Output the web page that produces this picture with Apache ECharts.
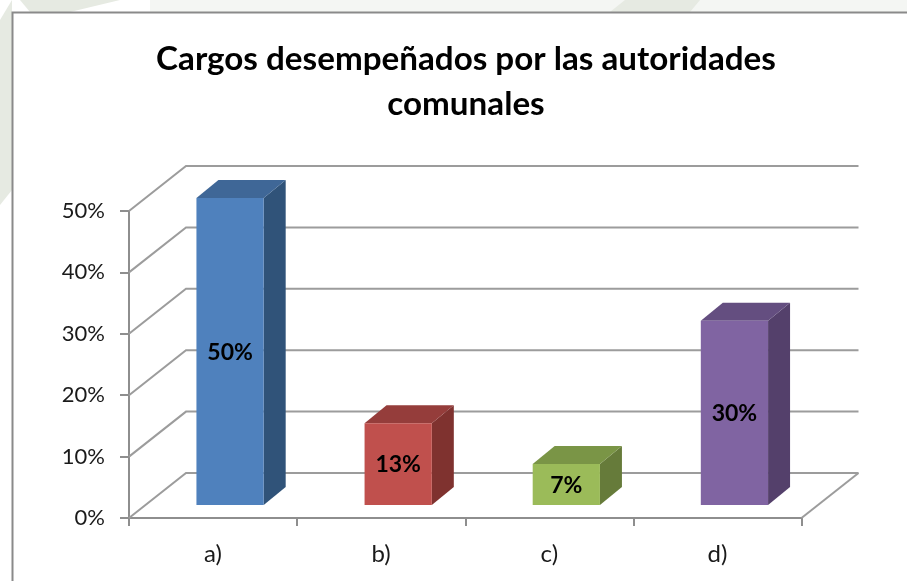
<!DOCTYPE html>
<html><head><meta charset="utf-8">
<style>html,body{margin:0;padding:0;background:#fff}#c{width:907px;height:581px}</style>
<script src="https://cdn.jsdelivr.net/npm/echarts@6/dist/echarts.min.js"></script>
</head><body><div id="c"></div>
<script>
const categories = ['a)', 'b)', 'c)', 'd)'];
const values = [50, 13.33, 6.67, 30];
const ticks = [0, 10, 20, 30, 40, 50];
const frontColors = ['#4F81BD', '#C0504D', '#9BBB59', '#8064A2'];
const topColors = ['#3F6797', '#953D3B', '#7A9546', '#644E80'];
const sideColors = ['#305379', '#7F322F', '#667B3A', '#54406B'];
const titleText = 'Cargos desempeñados por las autoridades\ncomunales';

const wallDX = 57, wallDY = -45;
const gapDX = 17, gapDY = -13;
const barDX = 22, barDY = -18;
const gridColor = '#9C9C9C';
const font = 'Lato';

const chart = echarts.init(document.getElementById('c'), null, {renderer: 'canvas'});
chart.setOption({
  animation: false,
  backgroundColor: '#fff',
  title: {
    text: titleText, left: 461, top: 32, textAlign: 'center',
    textStyle: {fontFamily: font, fontWeight: 'bold', fontSize: 33.2, lineHeight: 45, color: '#000'}
  },
  graphic: [
    {type: 'rect', silent: true, z: -10, shape: {x: 150, y: 0, width: 757, height: 12}, style: {fill: '#F4F6F3'}},
    {type: 'polygon', silent: true, z: -9, shape: {points: [[0, 20], [12, 0], [12, 190], [0, 205]]}, style: {fill: '#E6EAE2'}},
    {type: 'polygon', silent: true, z: -9, shape: {points: [[20, 0], [120, 0], [70, 12], [30, 12]]}, style: {fill: '#E6EAE2'}},
    {type: 'polygon', silent: true, z: -9, shape: {points: [[610, 12], [625, 0], [700, 0], [690, 12]]}, style: {fill: '#E6EAE2'}},
    {type: 'rect', silent: true, z: -5, shape: {x: 12.5, y: 12.5, width: 1000, height: 1000},
      style: {fill: '#fff', stroke: '#8A8A8A', lineWidth: 2}}
  ],
  grid: {left: 129, top: 211, width: 672.5, height: 307, containLabel: false},
  xAxis: {
    type: 'category', data: categories,
    axisLine: {lineStyle: {color: '#8E8E8E', width: 2}},
    axisTick: {show: true, length: 8, lineStyle: {color: '#8E8E8E', width: 2}},
    axisLabel: {fontFamily: font, fontSize: 24, color: '#1a1a1a', margin: 24, interval: 0},
    splitLine: {show: false}
  },
  yAxis: {
    type: 'value', min: 0, max: 50, interval: 10,
    axisLine: {show: true, lineStyle: {color: '#8E8E8E', width: 2}},
    axisTick: {show: true, length: 9, lineStyle: {color: '#8E8E8E', width: 2}},
    axisLabel: {fontFamily: font, fontSize: 22, color: '#1a1a1a', margin: 24, formatter: '{value}%'},
    splitLine: {show: false}
  },
  series: [
    {
      type: 'custom', z: 1, silent: true,
      data: ticks.map(t => [0, t]),
      encode: {x: 0, y: 1},
      renderItem(params, api) {
        const sys = params.coordSys;
        const y = api.coord([0, api.value(1)])[1];
        const pts = [[sys.x, y], [sys.x + wallDX, y + wallDY], [sys.x + sys.width + wallDX, y + wallDY]];
        const kids = [{type: 'polyline', shape: {points: pts}, style: {stroke: gridColor, lineWidth: 2, fill: null}}];
        if (api.value(1) === 0) {
          kids.push({type: 'line', shape: {x1: sys.x + sys.width, y1: y, x2: sys.x + sys.width + wallDX, y2: y + wallDY},
            style: {stroke: gridColor, lineWidth: 2}});
        }
        return {type: 'group', children: kids};
      }
    },
    {
      type: 'custom', z: 2, silent: true,
      data: values.map((v, i) => [i, v]),
      encode: {x: 0, y: 1},
      renderItem(params, api) {
        const i = api.value(0), v = api.value(1);
        const base = api.coord([i, 0]);
        const topY = api.coord([i, v])[1] + gapDY;
        const w = api.size([1, 0])[0] * 0.4;
        const x0 = base[0] - w / 2 + gapDX, x1 = x0 + w;
        const y0 = base[1] + gapDY;
        return {type: 'group', children: [
          {type: 'polygon', shape: {points: [[x1, y0], [x1 + barDX, y0 + barDY], [x1 + barDX, topY + barDY], [x1, topY]]},
            style: {fill: sideColors[i]}},
          {type: 'polygon', shape: {points: [[x0, topY], [x0 + barDX, topY + barDY], [x1 + barDX, topY + barDY], [x1, topY]]},
            style: {fill: topColors[i]}},
          {type: 'rect', shape: {x: x0, y: topY, width: w, height: y0 - topY}, style: {fill: frontColors[i]}},
          {type: 'text', style: {x: (x0 + x1) / 2, y: (topY + y0) / 2 + 1, text: Math.round(v) + '%', align: 'center', verticalAlign: 'middle',
            fontFamily: font, fontWeight: 'bold', fontSize: 23, fill: '#000'}}
        ]};
      }
    }
  ]
});
</script></body></html>
